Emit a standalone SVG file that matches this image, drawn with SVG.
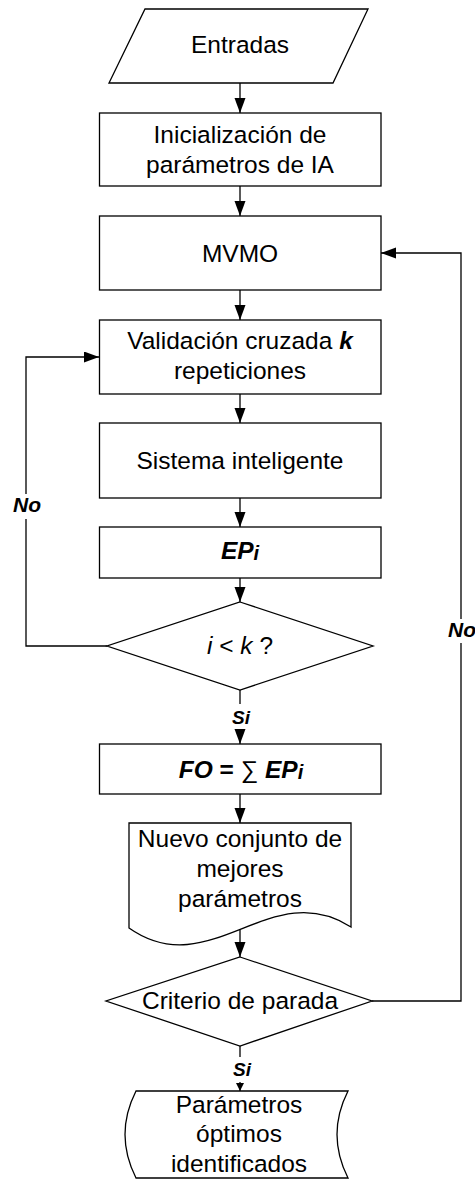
<svg xmlns="http://www.w3.org/2000/svg" width="475" height="1179" viewBox="0 0 475 1179">
  <style>
    .shape { fill: #ffffff; stroke: #000000; stroke-width: 1.3; }
    .conn { fill: none; stroke: #000000; stroke-width: 1.3; }
    .t { font-family: "Liberation Sans", Arial, sans-serif; font-size: 24.5px; fill: #000000; text-anchor: middle; }
    .lbl { font-family: "Liberation Sans", Arial, sans-serif; font-size: 19px; font-weight: bold; font-style: italic; fill: #000000; text-anchor: middle; }
    .no { font-size: 21px; }
    .bi { font-weight: bold; font-style: italic; }
    .it { font-style: italic; }
    .mask { fill: #ffffff; stroke: none; }
  </style>
  <defs>
    <marker id="arrow" markerUnits="userSpaceOnUse" markerWidth="16" markerHeight="12" refX="15" refY="5.5" orient="auto">
      <path d="M0,0 L15,5.5 L0,11 Z" fill="#000000"/>
    </marker>
    <marker id="arrowSmall" markerUnits="userSpaceOnUse" markerWidth="9" markerHeight="9" refX="8" refY="4" orient="auto">
      <path d="M0,0 L8,4 L0,8 Z" fill="#000000"/>
    </marker>
  </defs>

  <!-- connectors -->
  <g id="connectors">
    <path class="conn" d="M240,83 V113" marker-end="url(#arrow)"/>
    <path class="conn" d="M240,186 V216" marker-end="url(#arrow)"/>
    <path class="conn" d="M240,290 V320" marker-end="url(#arrow)"/>
    <path class="conn" d="M240,394 V423" marker-end="url(#arrow)"/>
    <path class="conn" d="M240,498 V527" marker-end="url(#arrow)"/>
    <path class="conn" d="M240,578 V602" marker-end="url(#arrow)"/>
    <path class="conn" d="M240,690 V744" marker-end="url(#arrow)"/>
    <path class="conn" d="M240,794 V823" marker-end="url(#arrow)"/>
    <path class="conn" d="M240,930 V957" marker-end="url(#arrow)"/>
    <path class="conn" d="M240,1046 V1091" marker-end="url(#arrowSmall)"/>
    <!-- loop back: i < k -->
    <path class="conn" d="M107,646 H26 V357 H99" marker-end="url(#arrow)"/>
    <!-- loop back: stop criterion -->
    <path class="conn" d="M372,1001 H461 V253 H381" marker-end="url(#arrow)"/>
  </g>

  <!-- connector labels -->
  <g id="labels">
    <rect class="mask" x="9" y="494" width="36" height="25"/>
    <text class="lbl no" x="27" y="512">No</text>
    <rect class="mask" x="447" y="619" width="28" height="24"/>
    <text class="lbl no" x="462" y="637">No</text>
    <rect class="mask" x="225" y="704" width="30" height="25"/>
    <text class="lbl" x="241" y="724">Si</text>
    <rect class="mask" x="226" y="1057" width="30" height="25"/>
    <text class="lbl" x="242" y="1076">Si</text>
  </g>

  <g id="entradas">
    <polygon class="shape" points="145,9 368,9 333,83 109,83"/>
    <text class="t" x="240" y="53">Entradas</text>
  </g>

  <g id="inicializacion">
    <rect class="shape" x="99.5" y="113" width="281.5" height="73"/>
    <text class="t" x="240" y="143">Inicialización de</text>
    <text class="t" x="240" y="173">parámetros de IA</text>
  </g>

  <g id="mvmo">
    <rect class="shape" x="99.5" y="216" width="281.5" height="74"/>
    <text class="t" x="240" y="262">MVMO</text>
  </g>

  <g id="validacion">
    <rect class="shape" x="99.5" y="320" width="281.5" height="74"/>
    <text class="t" x="240" y="349">Validación cruzada <tspan class="bi">k</tspan></text>
    <text class="t" x="240" y="379">repeticiones</text>
  </g>

  <g id="sistema">
    <rect class="shape" x="99.5" y="423" width="281.5" height="75"/>
    <text class="t" x="240" y="469">Sistema inteligente</text>
  </g>

  <g id="ep">
    <rect class="shape" x="99.5" y="527" width="281.5" height="51"/>
    <text class="t bi" x="240" y="559">EP<tspan font-size="20" dy="1">i</tspan></text>
  </g>

  <g id="decision-k">
    <polygon class="shape" points="240,602 373,646 240,690 107,646"/>
    <text class="t" x="240" y="654"><tspan class="it">i</tspan> &lt; <tspan class="it">k</tspan> ?</text>
  </g>

  <g id="fo">
    <rect class="shape" x="99.5" y="744" width="281.5" height="50"/>
    <text class="t" x="241" y="778"><tspan class="bi">FO</tspan><tspan font-weight="bold"> = </tspan>∑ <tspan class="bi">EP</tspan><tspan class="bi" font-size="20" dy="1">i</tspan></text>
  </g>

  <g id="nuevo-conjunto">
    <path class="shape" d="M129,823 H351 V927 C270,875 210,985 129,928 Z"/>
    <text class="t" x="240" y="847">Nuevo conjunto de</text>
    <text class="t" x="240" y="877">mejores</text>
    <text class="t" x="240" y="907">parámetros</text>
  </g>

  <g id="decision-parada">
    <polygon class="shape" points="240,957 372,1001 240,1046 106,1001"/>
    <text class="t" x="240" y="1009" font-size="23">Criterio de parada</text>
  </g>

  <g id="parametros-optimos">
    <path class="shape" d="M136,1091 H348 Q326,1134.5 348,1178 H136 Q114,1134.5 136,1091 Z"/>
    <text class="t" x="239" y="1113">Parámetros</text>
    <text class="t" x="239" y="1142">óptimos</text>
    <text class="t" x="239" y="1172">identificados</text>
  </g>
</svg>
